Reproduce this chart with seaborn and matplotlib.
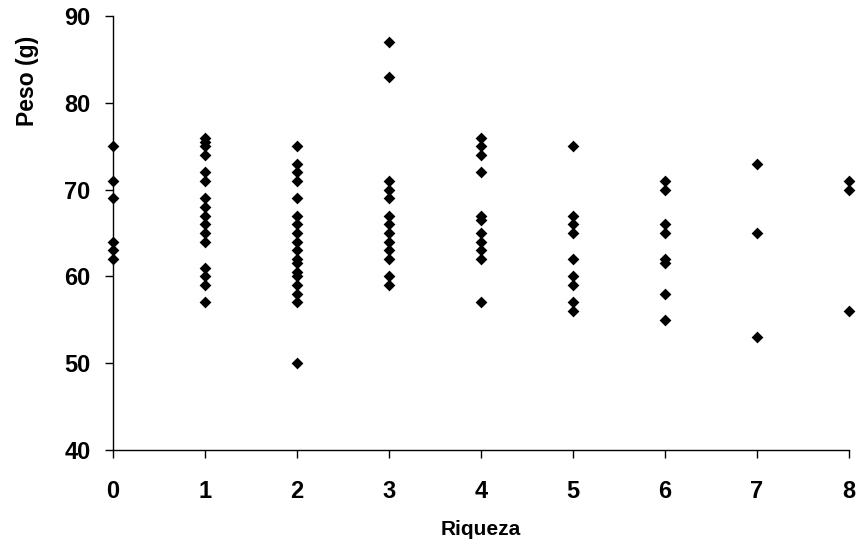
import matplotlib
matplotlib.use("Agg")
import matplotlib.pyplot as plt
import pandas as pd
import seaborn as sns

# ── data (peso in g for each riqueza value) ───────────────────────────────────
riqueza_0 = [75, 71, 69, 64, 63, 62]
riqueza_1 = [76, 75.5, 75, 74, 72, 71, 69, 68, 67, 66, 65, 64, 61, 60, 59, 57]
riqueza_2 = [75, 73, 72, 71, 69, 67, 66, 65, 64, 63, 62, 61.5, 60.5, 60, 59, 58, 57, 50]
riqueza_3 = [87, 83, 71, 70, 69, 67, 66, 65, 64, 63, 62, 60, 59]
riqueza_4 = [76, 75, 74, 72, 67, 66.5, 65, 64, 63, 62, 57]
riqueza_5 = [75, 67, 66, 65, 62, 60, 59, 57, 56]
riqueza_6 = [71, 70, 66, 65, 62, 61.5, 58, 55]
riqueza_7 = [73, 65, 53]
riqueza_8 = [71, 70, 56]

x_ticks = [0, 1, 2, 3, 4, 5, 6, 7, 8]
y_ticks = [40, 50, 60, 70, 80, 90]

columns = [riqueza_0, riqueza_1, riqueza_2, riqueza_3, riqueza_4,
           riqueza_5, riqueza_6, riqueza_7, riqueza_8]
df = pd.DataFrame(
    [(r, p) for r, vals in zip(x_ticks, columns) for p in vals],
    columns=["Riqueza", "Peso"],
)

sns.set_style("ticks")
plt.rcParams["font.family"] = ["Liberation Sans", "DejaVu Sans"]
plt.rcParams["text.color"] = "black"
plt.rcParams["axes.labelcolor"] = "black"
plt.rcParams["xtick.color"] = "black"
plt.rcParams["ytick.color"] = "black"

fig = plt.figure(figsize=(8.62, 5.56), dpi=100)
ax = fig.add_axes([0.131, 0.191, 0.854, 0.780])

sns.scatterplot(data=df, x="Riqueza", y="Peso", marker="D", s=36,
                color="black", edgecolor="black", linewidth=0,
                ax=ax, clip_on=False, zorder=3)

ax.set_xlim(0, 8)
ax.set_ylim(40, 90)
ax.set_xticks(x_ticks)
ax.set_yticks(y_ticks)
ax.tick_params(axis="both", labelsize=17, width=1, length=6, colors="black")
ax.tick_params(axis="x", pad=16)
ax.tick_params(axis="y", pad=10)
for lbl in ax.get_xticklabels() + ax.get_yticklabels():
    lbl.set_fontweight("bold")

ax.set_xlabel("Riqueza", fontsize=15, fontweight="bold", labelpad=12)
ax.set_ylabel("Peso (g)", fontsize=16.5, fontweight="bold")
# the original puts the y label near the top of the axis, not centred
ax.yaxis.set_label_coords(-0.101, 0.85)

sns.despine(ax=ax)
for sp in ("left", "bottom"):
    ax.spines[sp].set_linewidth(1.0)
    ax.spines[sp].set_color("black")

fig.savefig("out.png", dpi=100)
